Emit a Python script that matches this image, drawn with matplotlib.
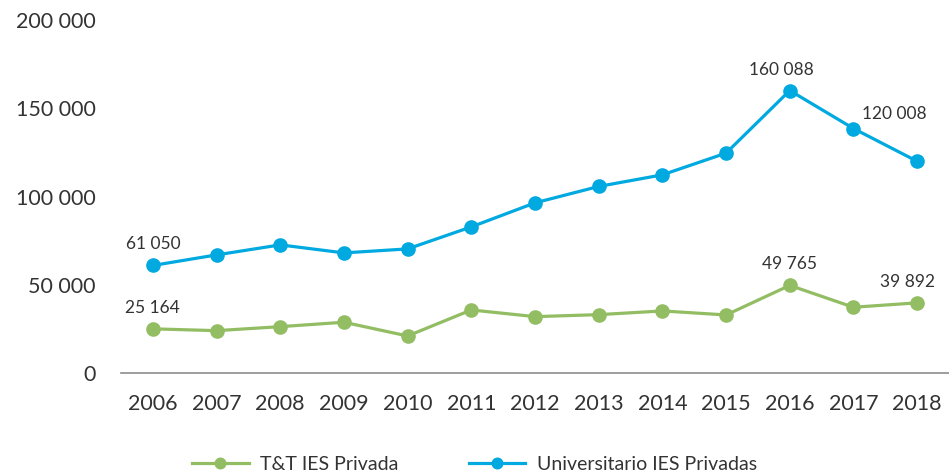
import matplotlib
matplotlib.use("Agg")
import matplotlib.pyplot as plt

years = [2006, 2007, 2008, 2009, 2010, 2011, 2012, 2013, 2014, 2015, 2016, 2017, 2018]
tt_ies = [25164, 24140, 26400, 28900, 21130, 35860, 32070, 33200, 35300, 33030, 49765, 37390, 39892]
univ_ies = [61050, 67020, 72700, 68160, 70420, 82890, 96490, 105780, 112350, 124650, 160088, 138580, 120008]

# etiquetas: (indice, texto, desplazamiento en pixeles)
tt_labels = [(0, "25 164", (0, 21)), (10, "49 765", (0, 21)), (12, "39 892", (-10, 21))]
univ_labels = [(0, "61 050", (0, 21)), (10, "160 088", (-8, 21)), (12, "120 008", (-23, 47))]

green = "#93bd63"
blue = "#00a9e0"
txt = "#333333"

plt.rcParams["font.family"] = ["Lato", "DejaVu Sans"]

fig = plt.figure(figsize=(9.49, 4.73), dpi=100)
ax = fig.add_axes([0.1275, 0.2108, 0.8725, 0.7469])

ax.plot(years, tt_ies, color=green, lw=2.3, marker="o", markersize=9.5, label="T&T IES Privada")
ax.plot(years, univ_ies, color=blue, lw=2.3, marker="o", markersize=9.5, label="Universitario IES Privadas")

for i, s, off in tt_labels:
    ax.annotate(s, (years[i], tt_ies[i]), xytext=off, textcoords="offset pixels",
                ha="center", va="center", fontsize=12.5, color=txt)
for i, s, off in univ_labels:
    ax.annotate(s, (years[i], univ_ies[i]), xytext=off, textcoords="offset pixels",
                ha="center", va="center", fontsize=12.5, color=txt)

ax.set_xlim(2005.5, 2018.5)
ax.set_ylim(0, 200000)
ax.set_xticks(years)
ax.set_yticks([0, 50000, 100000, 150000, 200000])
ax.set_yticklabels(["0", "50 000", "100 000", "150 000", "200 000"])
ax.tick_params(length=0, labelsize=15.5, colors=txt)
ax.tick_params(axis="x", pad=15)
ax.tick_params(axis="y", pad=18)

for s in ["top", "right", "left"]:
    ax.spines[s].set_visible(False)
ax.spines["bottom"].set_color("#8c8c8c")
ax.spines["bottom"].set_linewidth(1.2)

leg = fig.legend(loc="lower center", bbox_to_anchor=(0.5, -0.037), ncol=2, frameon=False,
                 fontsize=14, handlelength=2.9, columnspacing=3.6, handletextpad=0.6,
                 markerscale=0.8)
for t in leg.get_texts():
    t.set_color(txt)

fig.savefig("out.png", dpi=100)
